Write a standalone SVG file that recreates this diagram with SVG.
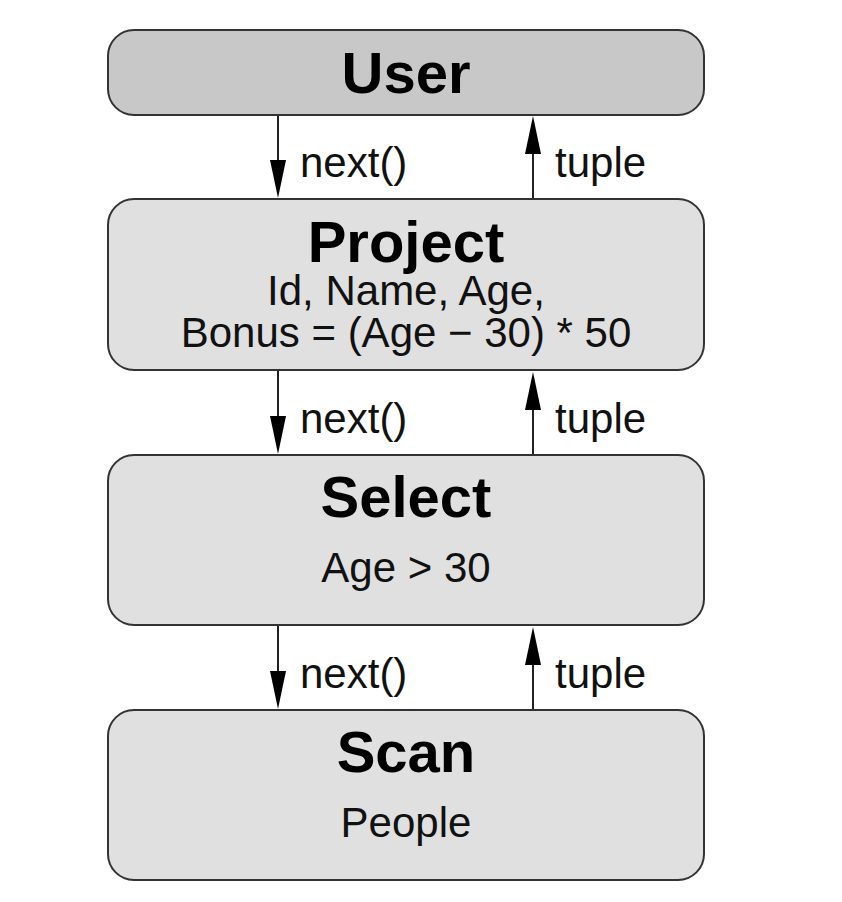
<svg xmlns="http://www.w3.org/2000/svg" width="842" height="902" viewBox="0 0 842 902">
<style>
.box{stroke:#333;stroke-width:2}
.title{font-family:"Liberation Sans",Arial,sans-serif;font-weight:bold;font-size:58px;text-anchor:middle;fill:#000}
.sub{font-family:"Liberation Sans",Arial,sans-serif;font-size:42px;text-anchor:middle;fill:#111}
.lbl{font-family:"Liberation Sans",Arial,sans-serif;font-size:42px;fill:#111}
.edge{stroke:#222;stroke-width:2;fill:none}
</style>
<rect width="842" height="902" fill="#fff"/>
<g id="user">
<rect class="box" x="108" y="30" width="596" height="85" rx="26" fill="#c8c8c8"/>
<text class="title" x="406" y="93">User</text>
</g>
<g id="project">
<rect class="box" x="108" y="199" width="596" height="171" rx="26" fill="#e0e0e0"/>
<text class="title" x="406" y="262">Project</text>
<text class="sub" x="406" y="305">Id, Name, Age,</text>
<text class="sub" x="406" y="347">Bonus = (Age − 30) * 50</text>
</g>
<g id="select">
<rect class="box" x="108" y="455" width="596" height="170" rx="26" fill="#e0e0e0"/>
<text class="title" x="406" y="517">Select</text>
<text class="sub" x="406" y="582">Age &gt; 30</text>
</g>
<g id="scan">
<rect class="box" x="108" y="710" width="596" height="170" rx="26" fill="#e0e0e0"/>
<text class="title" x="406" y="772">Scan</text>
<text class="sub" x="406" y="837">People</text>
</g>
<g id="connectors">
<path class="edge" d="M278,116 V162"/><path d="M270,160 L286,160 L278,198 Z" fill="#000"/>
<path class="edge" d="M533,198 V150"/><path d="M525,154 L541,154 L533,116 Z" fill="#000"/>
<path class="edge" d="M278,371 V418"/><path d="M270,416 L286,416 L278,454 Z" fill="#000"/>
<path class="edge" d="M533,454 V406"/><path d="M525,410 L541,410 L533,372 Z" fill="#000"/>
<path class="edge" d="M278,626 V673"/><path d="M270,671 L286,671 L278,709 Z" fill="#000"/>
<path class="edge" d="M533,709 V661"/><path d="M525,665 L541,665 L533,627 Z" fill="#000"/>
<text class="lbl" x="300" y="177">next()</text>
<text class="lbl" x="555" y="177">tuple</text>
<text class="lbl" x="300" y="433">next()</text>
<text class="lbl" x="555" y="433">tuple</text>
<text class="lbl" x="300" y="688">next()</text>
<text class="lbl" x="555" y="688">tuple</text>
</g>
</svg>
